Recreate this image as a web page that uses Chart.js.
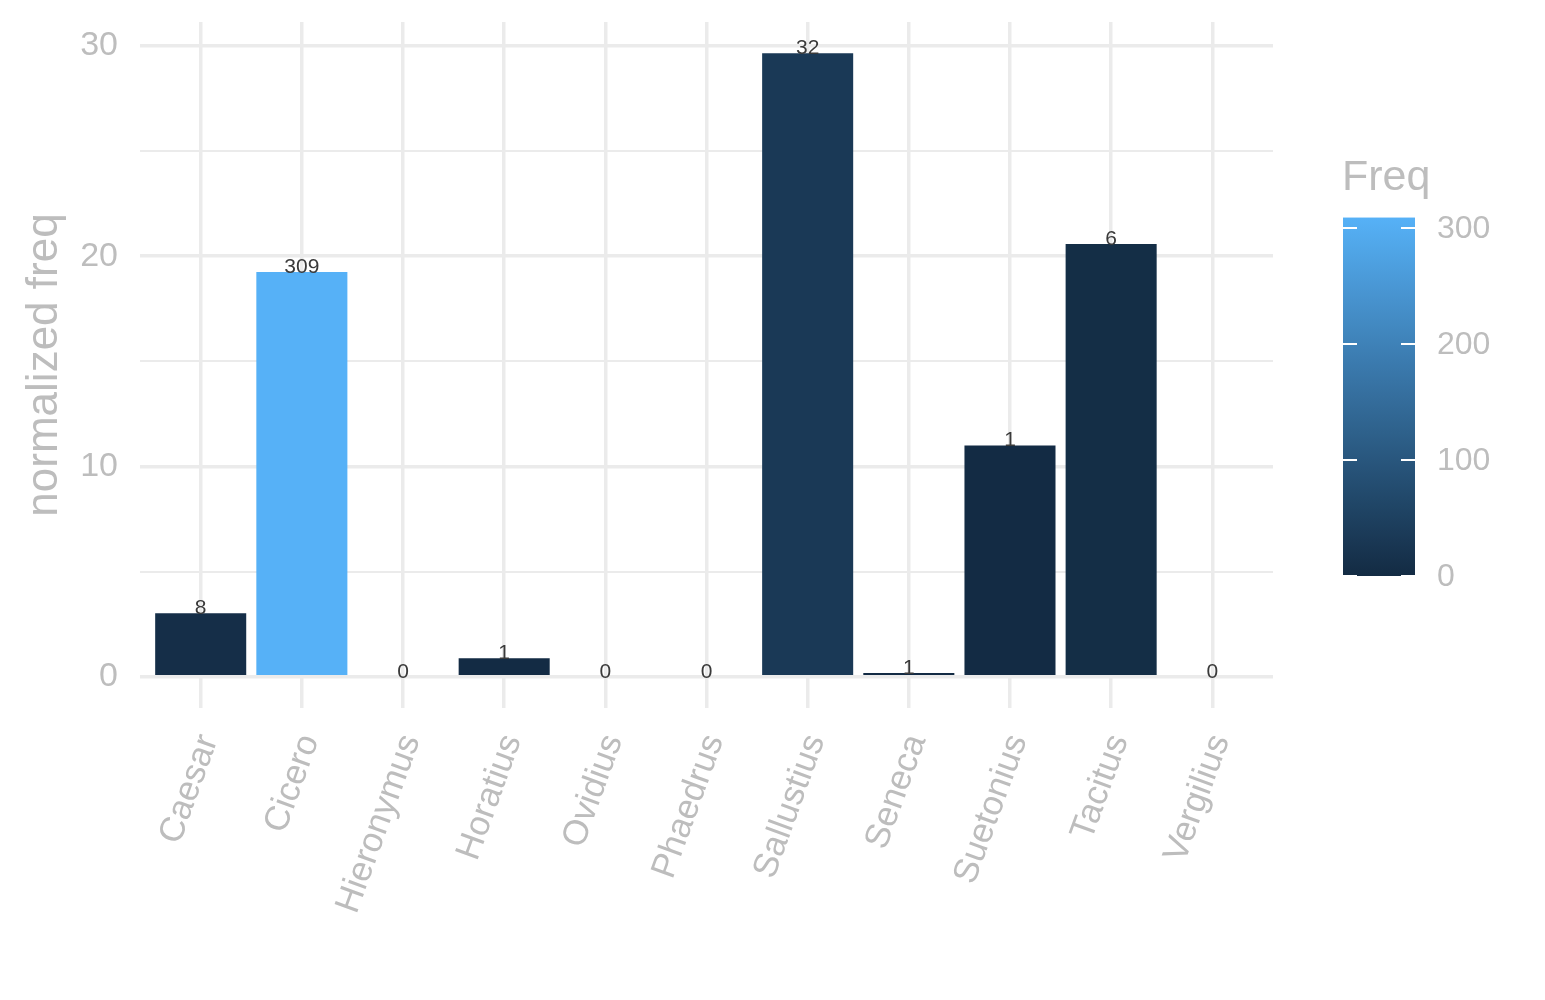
<!DOCTYPE html>
<html>
<head>
<meta charset="utf-8">
<title>normalized freq</title>
<script src="https://cdn.jsdelivr.net/npm/chart.js"></script>
<style>
  html, body { margin: 0; padding: 0; background: #fff; }
  canvas { display: block; }
</style>
</head>
<body>
<canvas id="freqChart" width="1545" height="1000" style="width:1545px;height:1000px"></canvas>
<script>
// values
const authors = ['Caesar', 'Cicero', 'Hieronymus', 'Horatius', 'Ovidius', 'Phaedrus',
  'Sallustius', 'Seneca', 'Suetonius', 'Tacitus', 'Vergilius'];
const normFreq = [3.02, 19.25, 0, 0.88, 0, 0, 29.65, 0.18, 11.0, 20.58, 0];
const rawFreq = [8, 309, 0, 1, 0, 0, 32, 1, 1, 6, 0];
const yTicks = [0, 5, 10, 15, 20, 25, 30];
const legendTicks = [0, 100, 200, 300];

const GREY = '#BDBDBD';
const GRID = '#EBEBEB';
const LOW = [19, 43, 67];    // #132B43
const HIGH = [86, 177, 247]; // #56B1F7
const freqMax = Math.max(...rawFreq);

const fillFor = (f) => {
  const t = f / freqMax;
  const c = LOW.map((l, i) => Math.round(l + (HIGH[i] - l) * t));
  return `rgb(${c[0]}, ${c[1]}, ${c[2]})`;
};

// value labels + y title + colourbar legend
const extras = {
  id: 'extras',
  afterDatasetsDraw(chart) {
    const { ctx, scales } = chart;
    ctx.save();
    ctx.fillStyle = '#3A3A3A';
    ctx.font = '21px "Liberation Sans", Arial, sans-serif';
    ctx.textAlign = 'center';
    ctx.textBaseline = 'alphabetic';
    normFreq.forEach((v, i) => {
      ctx.fillText(String(rawFreq[i]), scales.x.getPixelForValue(i + 1), scales.y.getPixelForValue(v) + 1);
    });
    ctx.restore();
  },
  afterDraw(chart) {
    const { ctx } = chart;
    ctx.save();

    // y title
    ctx.fillStyle = GREY;
    ctx.font = '44px "Liberation Sans", Arial, sans-serif';
    ctx.translate(45, 365);
    ctx.rotate(-Math.PI / 2);
    ctx.textAlign = 'center';
    ctx.textBaseline = 'middle';
    ctx.fillText('normalized freq', 0, 0);
    ctx.setTransform(1, 0, 0, 1, 0, 0);

    // colourbar
    const barL = 1343, barR = 1415, barBottom = 576;
    const pxPerUnit = 348 / 300;
    const barTop = barBottom - freqMax * pxPerUnit;
    const grad = ctx.createLinearGradient(0, barBottom, 0, barTop);
    for (let s = 0; s <= 10; s++) grad.addColorStop(s / 10, fillFor(freqMax * s / 10));
    ctx.fillStyle = grad;
    ctx.fillRect(barL, barTop, barR - barL, barBottom - barTop);

    ctx.strokeStyle = '#FFFFFF';
    ctx.lineWidth = 2;
    ctx.fillStyle = GREY;
    ctx.font = '32px "Liberation Sans", Arial, sans-serif';
    ctx.textAlign = 'left';
    ctx.textBaseline = 'middle';
    legendTicks.forEach((t) => {
      const y = barBottom - t * pxPerUnit;
      ctx.beginPath();
      ctx.moveTo(barL, y); ctx.lineTo(barL + 14, y);
      ctx.moveTo(barR - 14, y); ctx.lineTo(barR, y);
      ctx.stroke();
      ctx.fillText(String(t), 1437, y + 1);
    });

    ctx.font = '43px "Liberation Sans", Arial, sans-serif';
    ctx.textBaseline = 'alphabetic';
    ctx.fillText('Freq', 1342, 190);
    ctx.restore();
  }
};

new Chart(document.getElementById('freqChart'), {
  type: 'bar',
  data: {
    datasets: [{
      data: normFreq.map((v, i) => ({ x: i + 1, y: v })),
      backgroundColor: rawFreq.map(fillFor),
      borderWidth: 0,
      barPercentage: 1,
      categoryPercentage: 0.9
    }]
  },
  options: {
    responsive: false,
    animation: false,
    devicePixelRatio: 1,
    layout: { padding: { top: 22, right: 272, left: 0, bottom: 0 } },
    plugins: { legend: { display: false }, tooltip: { enabled: false } },
    scales: {
      x: {
        type: 'linear',
        min: 0.4,
        max: 11.6,
        offset: false,
        afterBuildTicks: (scale) => { scale.ticks = authors.map((a, i) => ({ value: i + 1 })); },
        afterFit: (scale) => {
          scale.height = 292;
          scale.paddingLeft = 0;
          scale.paddingRight = 0;
        },
        border: { display: false },
        grid: { color: GRID, lineWidth: 3.5, drawTicks: false, offset: false },
        ticks: {
          color: GREY,
          font: { family: '"Liberation Sans", Arial, sans-serif', size: 35 },
          minRotation: 70,
          maxRotation: 70,
          autoSkip: false,
          padding: 21,
          labelOffset: 8,
          callback: (v) => authors[v - 1]
        }
      },
      y: {
        min: -1.48,
        max: 31.13,
        afterBuildTicks: (scale) => { scale.ticks = yTicks.map((v) => ({ value: v })); },
        afterFit: (scale) => {
          scale.width = 140;
          scale.paddingTop = 0;
          scale.paddingBottom = 0;
        },
        border: { display: false },
        grid: {
          color: GRID,
          drawTicks: false,
          lineWidth: (c) => (c.tick && c.tick.value % 10 === 0 ? 3.5 : 2)
        },
        ticks: {
          color: GREY,
          font: { family: '"Liberation Sans", Arial, sans-serif', size: 34 },
          padding: 22,
          callback: (v) => (v % 10 === 0 ? String(v) : '')
        }
      }
    }
  },
  plugins: [extras]
});
</script>
</body>
</html>
